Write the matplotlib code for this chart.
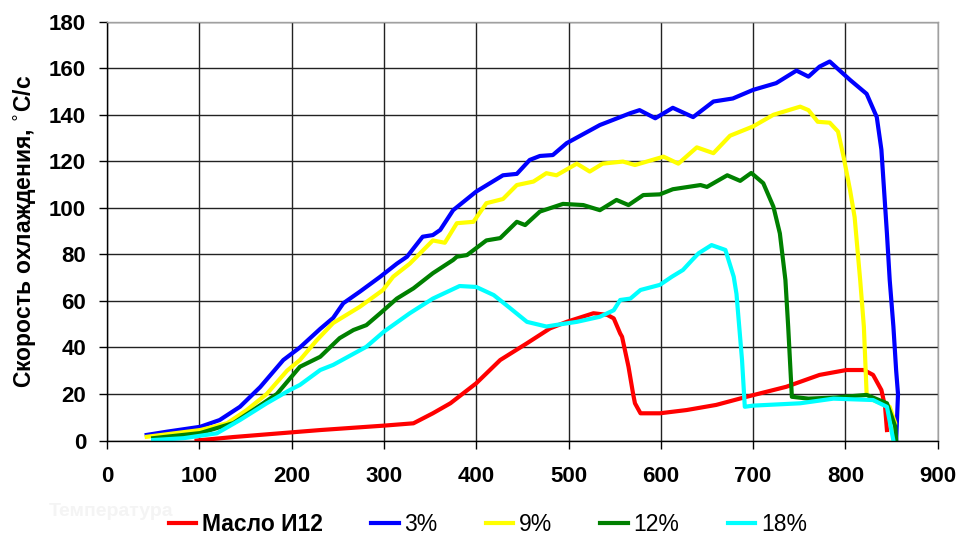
import matplotlib.pyplot as plt

plt.rcParams['font.family'] = ['Liberation Sans', 'DejaVu Sans']

# температура, °C -> скорость охлаждения, °C/c
oil_x = [97, 137, 231, 300, 332, 353, 372, 400, 426, 455, 480, 498, 527, 542, 549,
         556, 558, 565, 570, 572, 578, 599, 628, 660, 693, 736, 772, 801, 820, 830,
         839, 843, 845]
oil_y = [0, 1.5, 4.5, 6.4, 7.4, 11.7, 16, 24.6, 34.6, 41.8, 48.2, 51, 54.7, 54, 52.5,
         46, 44.6, 31.7, 20, 16, 11.7, 11.7, 13.1, 15.3, 18.8, 23.1, 28.2, 30.3, 30.3, 28.2,
         21.7, 14.5, 4.5]

p3_x = [43, 65, 101, 122, 144, 166, 191, 209, 231, 245, 256, 274, 296, 314, 325, 342,
        353, 361, 375, 400, 429, 444, 458, 469, 483, 498, 534, 567, 577, 594, 613, 635,
        657, 678, 700, 725, 747, 760, 772, 783, 805, 823, 834, 839, 845, 848, 852, 855,
        857, 856, 855]
p3_y = [2.4, 3.8, 5.9, 8.8, 14.5, 23, 34.6, 40, 48, 52.7, 59, 64, 70.4, 76, 79, 87.6,
        88.3, 90.5, 99, 107, 114, 114.6, 120.6, 122.3, 122.7, 127.8, 135.6, 140.7, 142, 138.5, 143, 139,
        145.7, 147, 150.7, 153.6, 159, 156.4, 160.7, 162.9, 155, 149, 139, 125, 89, 69, 49, 30,
        20, 10, 0]

p9_x = [43, 101, 130, 151, 173, 195, 209, 227, 245, 274, 299, 310, 328, 353, 366, 379,
        397, 411, 429, 444, 462, 476, 487, 509, 523, 537, 559, 572, 603, 619, 639, 657,
        675, 700, 722, 751, 760, 770, 783, 792, 798, 805, 810, 816, 820, 823, 830, 848,
        854, 852]
p9_y = [1.6, 4.5, 7.4, 13, 20, 30, 34.6, 43, 50.5, 57.5, 64.7, 70.4, 76, 86, 85, 93.4,
        94, 102, 103.8, 109.8, 111.3, 114.9, 114, 119, 115.6, 119, 119.9, 118.4, 122, 119, 126, 123.5,
        131, 135, 140, 143.5, 142, 137, 136.6, 132.8, 122, 107.7, 96, 69, 49, 20, 17.4, 14.5,
        7.4, 0]

p12_x = [50, 101, 137, 158, 184, 209, 231, 252, 267, 281, 296, 314, 332, 353, 375, 379,
         390, 411, 426, 444, 453, 469, 494, 516, 534, 552, 565, 581, 599, 613, 643, 650,
         672, 686, 698, 711, 722, 729, 735, 738, 742, 760, 790, 823, 845, 854, 855]
p12_y = [1, 3.2, 7.5, 13, 20, 31.7, 36, 44, 47.5, 49.6, 54.7, 61, 65.4, 71.9, 77.6, 79,
         79.7, 86, 87, 94, 92.6, 98.4, 101.7, 101.2, 99, 103.4, 101.2, 105.5, 105.8, 108, 109.8, 109,
         114, 111.6, 115, 110.6, 100.5, 89, 69, 49, 18.8, 18, 18.5, 19.6, 16, 6, 0]

p18_x = [50, 83, 119, 144, 173, 198, 209, 231, 245, 281, 300, 328, 353, 382, 400, 419,
         437, 455, 476, 487, 509, 534, 549, 556, 567, 578, 599, 612, 624, 634, 641, 655,
         670, 679, 682, 688, 691, 700, 751, 787, 830, 845, 852]
p18_y = [0.2, 1, 3.1, 8.8, 16, 21.7, 23.9, 30.3, 32.5, 40.3, 46.8, 54.7, 61, 66.4, 66, 62.5,
         56.8, 51, 49, 49.7, 51, 53.2, 56, 60.4, 61, 64.7, 66.9, 70.4, 73.3, 77.6, 80.5, 84,
         81.9, 70.4, 63, 34.6, 14.5, 15, 16, 18, 17.4, 14.5, 0]

series = [
    ('Масло И12', oil_x, oil_y, '#ff0000'),
    ('3%', p3_x, p3_y, '#0000ff'),
    ('9%', p9_x, p9_y, '#ffff00'),
    ('12%', p12_x, p12_y, '#008000'),
    ('18%', p18_x, p18_y, '#00ffff'),
]

fig = plt.figure(figsize=(9.66, 5.35), dpi=100)
ax = fig.add_axes([0.1108, 0.1766, 0.8599, 0.7828])

for name, xs, ys, col in series:
    ax.plot(xs, ys, color=col, lw=3, label=name, solid_joinstyle='round')

ax.set_xlim(0, 900)
ax.set_ylim(0, 180)
ax.set_xticks(range(0, 901, 100))
ax.set_yticks(range(0, 181, 20))
ax.grid(True, color='#222222', lw=1)
ax.set_axisbelow(True)

for side in ['left', 'bottom']:
    ax.spines[side].set_color('black')
    ax.spines[side].set_linewidth(1)
for side in ['top', 'right']:
    ax.spines[side].set_color('#a0a0a0')
    ax.spines[side].set_linewidth(1)

ax.tick_params(axis='both', direction='out', length=6, width=1, labelsize=16)
ax.tick_params(axis='x', pad=12)
ax.tick_params(axis='y', pad=9)
for lab in ax.get_xticklabels() + ax.get_yticklabels():
    lab.set_fontweight('bold')

ax.set_ylabel('Скорость охлаждения, $^{\\circ}$С/с', fontsize=16.5, fontweight='bold', labelpad=8)

# бледная подпись оси X, почти невидимая
fig.text(0.05, 0.035, 'Температура', color='#f4f4f4', fontsize=14, fontweight='bold', ha='left')

leg = fig.legend(loc='lower center', bbox_to_anchor=(0.505, -0.04), ncol=5, frameon=False,
                 fontsize=16.5, handlelength=1.2, columnspacing=2.1, handletextpad=0.25)
for t in leg.get_texts():
    if t.get_text().startswith('Масло'):
        t.set_fontweight('bold')

fig.savefig('out.png', dpi=100)
